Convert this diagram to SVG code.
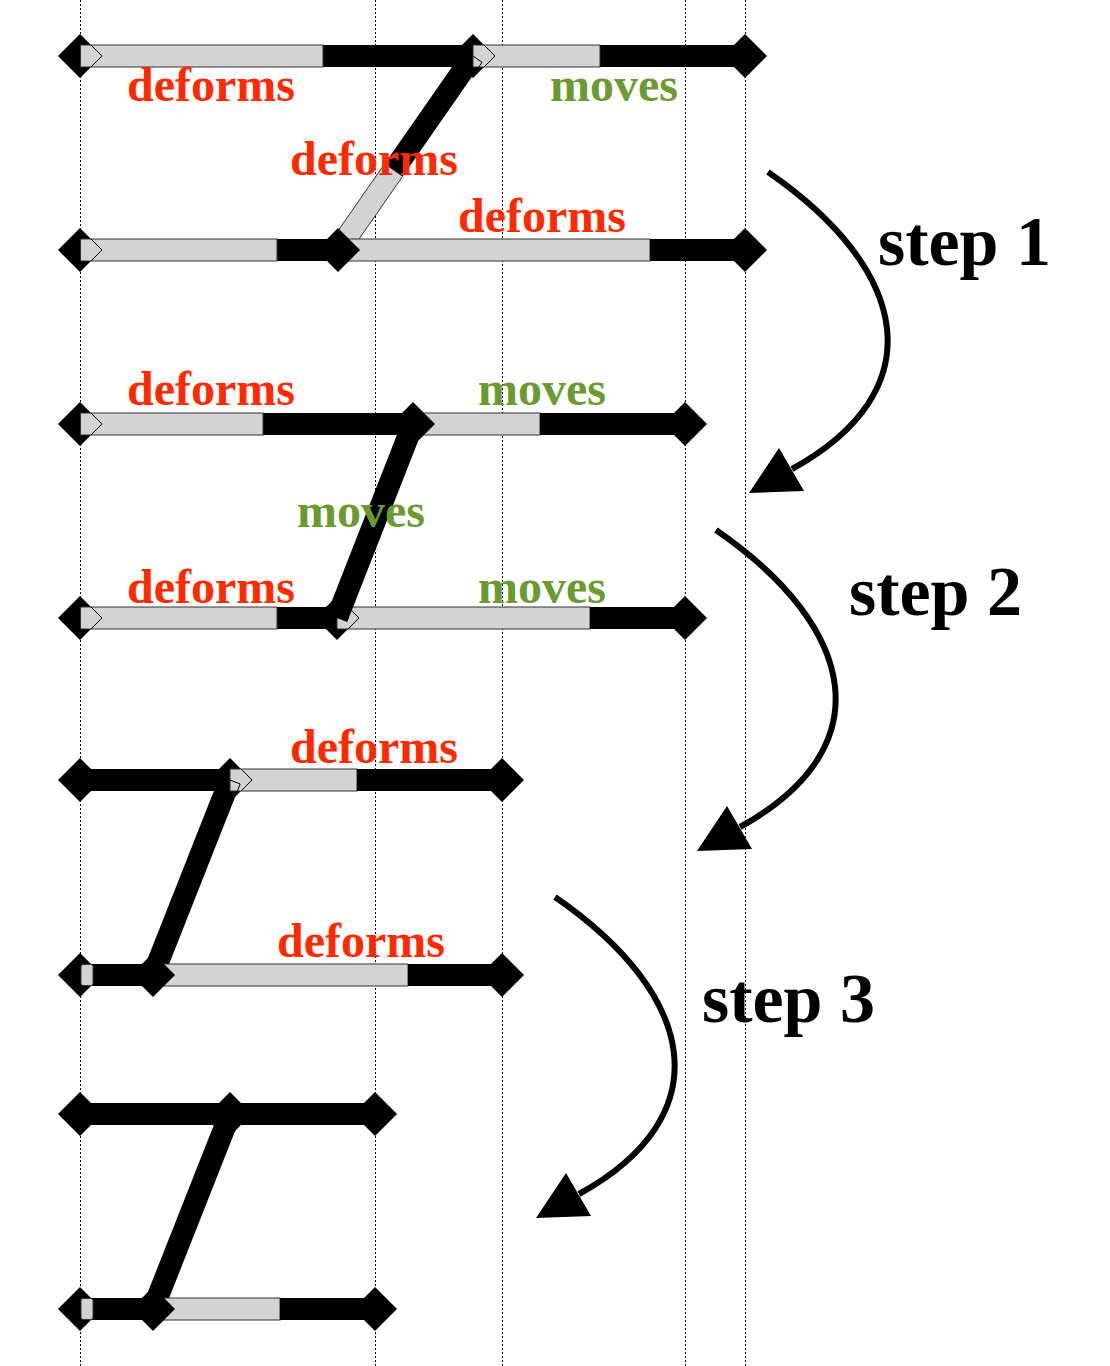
<svg xmlns="http://www.w3.org/2000/svg" width="1110" height="1366" viewBox="0 0 1110 1366">
<style>
.guide{stroke:#000;stroke-width:1;stroke-dasharray:2 2;fill:none}
.blk{fill:#000}
.bar{fill:#d3d3d3;stroke:#333;stroke-width:1}
.diag{stroke:#000;stroke-width:22;fill:none}
.ol{fill:none;stroke:#000;stroke-width:1}
.lbl{font-family:"Liberation Serif","Times New Roman",serif;font-weight:bold;font-size:48px}
.red{fill:#ff2a00}
.green{fill:#6a9a30}
.step{font-family:"Liberation Serif","Times New Roman",serif;font-weight:bold;font-size:70px;fill:#000}
.arrow{fill:none;stroke:#000;stroke-width:6}
.head{fill:#000}
</style>
<defs>
<path id="dm" d="M-22,0 L0,-22 L22,0 L0,22 Z" fill="#000"/>
</defs>
<rect width="1110" height="1366" fill="#fff"/>
<g id="guides">
<line class="guide" x1="80.5" y1="0" x2="80.5" y2="1366"/>
<line class="guide" x1="375.5" y1="0" x2="375.5" y2="1366"/>
<line class="guide" x1="502.5" y1="0" x2="502.5" y2="1366"/>
<line class="guide" x1="685.5" y1="0" x2="685.5" y2="1366"/>
<line class="guide" x1="745.5" y1="0" x2="745.5" y2="1366"/>
</g>

<g id="stage1">
<polygon class="bar" points="384.7,163.7 402.7,176.3 347,256.3 329,243.7"/>
<line class="diag" x1="473" y1="56" x2="393.7" y2="170"/>
<g id="row1">
<use href="#dm" x="80" y="56"/>
<rect class="blk" x="323" y="45" width="150" height="22"/>
<use href="#dm" x="473" y="56"/>
<rect class="blk" x="600" y="45" width="145" height="22"/>
<use href="#dm" x="745" y="56"/>
<rect class="bar" x="80.5" y="45" width="242.5" height="22"/>
<polyline class="ol" points="91,45 102,56 91,67"/>
<rect class="bar" x="473" y="45" width="127" height="22"/>
<polyline class="ol" points="484,45 495,56 484,67"/>
<polyline class="ol" points="473,56 482,62.3 478.7,67"/>
</g>
<g id="row2">
<use href="#dm" x="80" y="250"/>
<rect class="blk" x="277" y="239" width="61" height="22"/>
<rect class="bar" x="80.5" y="239" width="196.5" height="22"/>
<polyline class="ol" points="91,239 102,250 91,261"/>
<rect class="bar" x="338" y="239" width="312" height="22"/>
<rect class="blk" x="650" y="239" width="95" height="22"/>
<use href="#dm" x="745" y="250"/>
<use href="#dm" x="338" y="250"/>
</g>
<text class="lbl red" x="127" y="101">deforms</text>
<text class="lbl green" x="550" y="101">moves</text>
<text class="lbl red" x="290" y="175">deforms</text>
<text class="lbl red" x="458" y="232">deforms</text>
</g>

<g id="stage2">
<g id="row3">
<use href="#dm" x="80" y="424"/>
<rect class="blk" x="263" y="413" width="150" height="22"/>
<rect class="bar" x="80.5" y="413" width="182.5" height="22"/>
<polyline class="ol" points="91,413 102,424 91,435"/>
<rect class="bar" x="413" y="413" width="127" height="22"/>
<rect class="blk" x="540" y="413" width="145" height="22"/>
<use href="#dm" x="685" y="424"/>
</g>
<g id="row4">
<use href="#dm" x="80" y="618"/>
<rect class="blk" x="277" y="607" width="60" height="22"/>
<rect class="bar" x="80.5" y="607" width="196.5" height="22"/>
<polyline class="ol" points="91,607 102,618 91,629"/>
<use href="#dm" x="337" y="618"/>
<rect class="bar" x="337" y="607" width="253" height="22"/>
<polyline class="ol" points="348,607 359,618 348,629"/>
<rect class="blk" x="590" y="607" width="95" height="22"/>
<use href="#dm" x="685" y="618"/>
</g>
<line class="diag" x1="413" y1="424" x2="337" y2="618"/>
<use href="#dm" x="413" y="424"/>
<text class="lbl red" x="127" y="405">deforms</text>
<text class="lbl green" x="478" y="405">moves</text>
<text class="lbl green" x="297" y="527">moves</text>
<text class="lbl red" x="127" y="603">deforms</text>
<text class="lbl green" x="478" y="603">moves</text>
</g>

<g id="stage3">
<line class="diag" x1="230" y1="780" x2="153" y2="975"/>
<g id="row5">
<use href="#dm" x="80" y="780"/>
<rect class="blk" x="80" y="769" width="150" height="22"/>
<use href="#dm" x="230" y="780"/>
<rect class="bar" x="230" y="769" width="127" height="22"/>
<polyline class="ol" points="241,769 252,780 241,791"/>
<polyline class="ol" points="230,780 240.2,784 237.4,791"/>
<rect class="blk" x="357" y="769" width="145" height="22"/>
<use href="#dm" x="502" y="780"/>
</g>
<g id="row6">
<use href="#dm" x="80" y="975"/>
<rect class="blk" x="80" y="964" width="73" height="22"/>
<rect class="bar" x="81" y="964.5" width="12" height="21" rx="2"/>
<rect class="bar" x="153" y="964" width="255" height="22"/>
<rect class="blk" x="408" y="964" width="94" height="22"/>
<use href="#dm" x="502" y="975"/>
<use href="#dm" x="153" y="975"/>
</g>
<text class="lbl red" x="290" y="763">deforms</text>
<text class="lbl red" x="277" y="957">deforms</text>
</g>

<g id="stage4">
<line class="diag" x1="230" y1="1114" x2="153" y2="1309"/>
<g id="row7">
<use href="#dm" x="80" y="1114"/>
<rect class="blk" x="80" y="1103" width="295" height="22"/>
<use href="#dm" x="230" y="1114"/>
<use href="#dm" x="375" y="1114"/>
</g>
<g id="row8">
<use href="#dm" x="80" y="1309"/>
<rect class="blk" x="80" y="1298" width="73" height="22"/>
<rect class="bar" x="81" y="1298.5" width="12" height="21" rx="2"/>
<rect class="bar" x="153" y="1298" width="127" height="22"/>
<rect class="blk" x="280" y="1298" width="95" height="22"/>
<use href="#dm" x="375" y="1309"/>
<use href="#dm" x="153" y="1309"/>
</g>
</g>

<g id="connectors">
<path class="arrow" d="M768,172 C910,270 935,390 792,469"/>
<polygon class="head" points="749,493 779,448 804,491"/>
<path class="arrow" d="M716,530 C858,628 883,748 740,827"/>
<polygon class="head" points="697,851 727,806 752,849"/>
<path class="arrow" d="M555,897 C697,995 722,1115 579,1194"/>
<polygon class="head" points="536,1218 566,1173 591,1216"/>
</g>

<g id="labels">
<text class="step" x="878" y="265">step 1</text>
<text class="step" x="849" y="615">step 2</text>
<text class="step" x="702" y="1022">step 3</text>
</g>
</svg>
